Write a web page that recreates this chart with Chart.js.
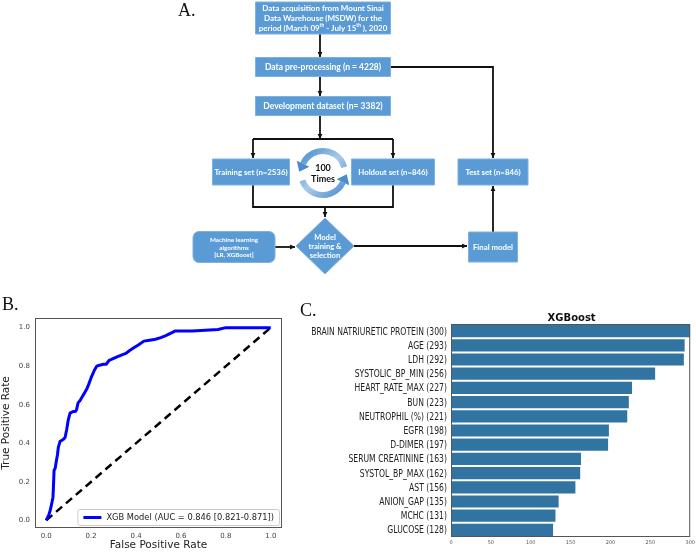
<!DOCTYPE html>
<html>
<head>
<meta charset="utf-8">
<script src="https://cdn.jsdelivr.net/npm/chart.js@4.4.1/dist/chart.umd.min.js"></script>
<style>
  body { margin: 0; background: #fff; }
  #wrap { position: relative; width: 696px; height: 552px; overflow: hidden; }
  canvas { position: absolute; }
  .panel { position: absolute; font-family: "Liberation Serif", serif; font-size: 18px; color: #111; }
</style>
</head>
<body>
<div id="wrap">
  <canvas id="flowChart" width="696" height="282" style="left:0;top:0;width:696px;height:282px"></canvas>
  <canvas id="rocChart" width="292" height="272" style="left:0;top:280px;width:292px;height:272px"></canvas>
  <canvas id="impChart" width="396" height="262" style="left:300px;top:290px;width:396px;height:262px"></canvas>
  <div class="panel" style="left:178px;top:0px">A.</div>
  <div class="panel" style="left:2px;top:294px">B.</div>
  <div class="panel" style="left:300px;top:300px">C.</div>
</div>
<script>
// ---- data ----
// flowchart steps (text only)
const stepLabels = [
  [["Data acquisition from Mount Sinai"], ["Data Warehouse (MSDW) for the"], ["period (March 09", "th", " - July 15", "th", " ), 2020"]],
  [["Data pre-processing (n = 4228)"]],
  [["Development dataset (n= 3382)"]],
  [["Training set (n=2536)"]],
  [["Holdout set (n=846)"]],
  [["Test set (n=846)"]],
  [["Machine learning"], ["algorithms"], ["[LR, XGBoost]"]],
  [["Model"], ["training &"], ["selection"]],
  [["Final model"]]
];
const loopLabel = ["100", "Times"];

// ROC curve
const rocFpr = [0, 0.012, 0.018, 0.025, 0.03, 0.032, 0.035, 0.04, 0.044, 0.05, 0.054, 0.062, 0.07, 0.076, 0.084, 0.088, 0.091, 0.098, 0.106, 0.12, 0.13, 0.135, 0.142, 0.15, 0.157, 0.17, 0.18, 0.186, 0.2, 0.215, 0.225, 0.237, 0.255, 0.267, 0.28, 0.29, 0.318, 0.34, 0.355, 0.37, 0.39, 0.41, 0.435, 0.46, 0.487, 0.51, 0.53, 0.56, 0.575, 0.65, 0.69, 0.765, 0.8, 1.0];
const rocTpr = [0, 0.03, 0.052, 0.09, 0.12, 0.17, 0.26, 0.27, 0.30, 0.34, 0.38, 0.41, 0.415, 0.42, 0.43, 0.43, 0.47, 0.52, 0.556, 0.565, 0.565, 0.574, 0.61, 0.62, 0.635, 0.66, 0.68, 0.696, 0.74, 0.78, 0.80, 0.805, 0.81, 0.81, 0.83, 0.835, 0.85, 0.86, 0.866, 0.88, 0.895, 0.91, 0.93, 0.935, 0.94, 0.948, 0.957, 0.974, 0.983, 0.983, 0.985, 0.99, 1.0, 1.0];
const chanceFpr = [0, 1];
const chanceTpr = [0, 1];
const rocTicks = [0, 0.2, 0.4, 0.6, 0.8, 1.0];
const rocLegend = "XGB Model (AUC = 0.846 [0.821-0.871])";

// XGBoost feature importance
const featureNames = ["BRAIN NATRIURETIC PROTEIN (300)", "AGE (293)", "LDH (292)", "SYSTOLIC_BP_MIN (256)", "HEART_RATE_MAX (227)", "BUN (223)", "NEUTROPHIL (%) (221)", "EGFR (198)", "D-DIMER (197)", "SERUM CREATININE (163)", "SYSTOL_BP_MAX (162)", "AST (156)", "ANION_GAP (135)", "MCHC (131)", "GLUCOSE (128)"];
const featureScores = [300, 293, 292, 256, 227, 223, 221, 198, 197, 163, 162, 156, 135, 131, 128];
const scoreTicks = [0, 50, 100, 150, 200, 250, 300];

// ---- flowchart layout (centre x/y, width, height in units of the hidden scales) ----
const stepBoxes = [
  { x: 323, y: 18,  w: 135, h: 32, shape: "rect", font: 8 },
  { x: 323, y: 67,  w: 135, h: 19, shape: "rect", font: 8.5 },
  { x: 323, y: 106, w: 135, h: 19, shape: "rect", font: 8.5 },
  { x: 251, y: 172, w: 77,  h: 26, shape: "rect", font: 7.8 },
  { x: 393, y: 172, w: 83,  h: 26, shape: "rect", font: 7.8 },
  { x: 493, y: 172, w: 70,  h: 26, shape: "rect", font: 7.8 },
  { x: 234, y: 247, w: 82,  h: 31, shape: "round", font: 6.3 },
  { x: 325, y: 246, w: 58,  h: 56, shape: "diamond", font: 7.6 },
  { x: 493, y: 247, w: 49,  h: 30, shape: "rect", font: 7.8 }
];
// connectors: polyline points, arrow at last point
const links = [
  { pts: [[320, 34], [320, 57]], arrow: true },
  { pts: [[320, 77], [320, 96]], arrow: true },
  { pts: [[320, 116], [320, 139]], arrow: true },
  { pts: [[253, 139], [393, 139]], arrow: false },
  { pts: [[253, 139], [253, 158]], arrow: true },
  { pts: [[393, 139], [393, 158]], arrow: true },
  { pts: [[253, 185], [253, 207], [393, 207], [393, 185]], arrow: false },
  { pts: [[325, 207], [325, 217]], arrow: true },
  { pts: [[275, 247], [295, 247]], arrow: true },
  { pts: [[354, 246], [467, 246]], arrow: true },
  { pts: [[493, 232], [493, 186]], arrow: true },
  { pts: [[391, 67], [493, 67], [493, 158]], arrow: true }
];
const loopCentre = { x: 323, y: 173, r: 22 };

const BOX_FILL = "#5b9bd5";
const BOX_EDGE = "#7fb0de";

function arrowHead(ctx, x0, y0, x1, y1, size) {
  const a = Math.atan2(y1 - y0, x1 - x0);
  ctx.beginPath();
  ctx.moveTo(x1, y1);
  ctx.lineTo(x1 - size * Math.cos(a - 0.45), y1 - size * Math.sin(a - 0.45));
  ctx.lineTo(x1 - size * Math.cos(a + 0.45), y1 - size * Math.sin(a + 0.45));
  ctx.closePath();
  ctx.fill();
}

function drawRichLine(ctx, segs, cx, cy, size) {
  // segs alternates normal / superscript text
  let widths = segs.map((s, i) => {
    ctx.font = "bold " + (i % 2 ? size * 0.6 : size) + "px Lato";
    return ctx.measureText(s).width;
  });
  let x = cx - widths.reduce((a, b) => a + b, 0) / 2;
  segs.forEach((s, i) => {
    ctx.font = "bold " + (i % 2 ? size * 0.6 : size) + "px Lato";
    ctx.textAlign = "left";
    ctx.fillText(s, x, i % 2 ? cy - size * 0.35 : cy);
    x += widths[i];
  });
}

const flowPlugin = {
  id: "flow",
  afterDatasetsDraw(chart) {
    const ctx = chart.ctx;
    const sx = chart.scales.x, sy = chart.scales.y;
    const px = v => sx.getPixelForValue(v), py = v => sy.getPixelForValue(v);
    ctx.save();

    // connectors
    ctx.strokeStyle = "#111";
    ctx.fillStyle = "#111";
    ctx.lineWidth = 1.8;
    links.forEach(l => {
      ctx.beginPath();
      l.pts.forEach((p, i) => i ? ctx.lineTo(px(p[0]), py(p[1])) : ctx.moveTo(px(p[0]), py(p[1])));
      ctx.stroke();
      if (l.arrow) {
        const n = l.pts.length;
        const a = l.pts[n - 2], b = l.pts[n - 1];
        arrowHead(ctx, px(a[0]), py(a[1]), px(b[0]), py(b[1]), 5.5);
      }
    });

    // boxes
    stepBoxes.forEach((b, i) => {
      const cx = px(b.x), cy = py(b.y);
      const w = px(b.x + b.w) - cx, h = py(b.y + b.h) - cy;
      ctx.fillStyle = BOX_FILL;
      ctx.strokeStyle = BOX_EDGE;
      ctx.lineWidth = 1;
      ctx.beginPath();
      if (b.shape === "diamond") {
        ctx.moveTo(cx, cy - h / 2);
        ctx.lineTo(cx + w / 2, cy);
        ctx.lineTo(cx, cy + h / 2);
        ctx.lineTo(cx - w / 2, cy);
        ctx.closePath();
      } else if (b.shape === "round") {
        ctx.roundRect(cx - w / 2, cy - h / 2, w, h, 6);
      } else {
        ctx.rect(cx - w / 2, cy - h / 2, w, h);
      }
      ctx.fill();
      ctx.stroke();

      const lines = stepLabels[i];
      const lh = b.font * 1.2;
      ctx.fillStyle = "#fff";
      ctx.textBaseline = "middle";
      lines.forEach((segs, k) => {
        drawRichLine(ctx, segs, cx, cy + (k - (lines.length - 1) / 2) * lh + 0.5, b.font);
      });
    });

    // loop arrows ("100 Times")
    const lc = { x: px(loopCentre.x), y: py(loopCentre.y) };
    const r = loopCentre.r;
    const grad = ctx.createLinearGradient(lc.x - r, lc.y - r, lc.x + r, lc.y + r);
    grad.addColorStop(0, "#4a8ccc");
    grad.addColorStop(0.5, "#a9cbea");
    grad.addColorStop(1, "#4a8ccc");
    ctx.strokeStyle = grad;
    ctx.fillStyle = "#4a8ccc";
    ctx.lineWidth = 6;
    const deg = Math.PI / 180;
    ctx.beginPath();
    ctx.arc(lc.x, lc.y, r, 345 * deg, 205 * deg, true);
    ctx.stroke();
    ctx.beginPath();
    ctx.arc(lc.x, lc.y, r, 160 * deg, 25 * deg, true);
    ctx.stroke();
    const head = (ang, dir) => {
      const ex = lc.x + r * Math.cos(ang), ey = lc.y + r * Math.sin(ang);
      const tx = -Math.sin(ang) * dir, ty = Math.cos(ang) * dir;
      const nx = Math.cos(ang), ny = Math.sin(ang);
      ctx.beginPath();
      ctx.moveTo(ex + tx * 9, ey + ty * 9);
      ctx.lineTo(ex + nx * 7, ey + ny * 7);
      ctx.lineTo(ex - nx * 7, ey - ny * 7);
      ctx.closePath();
      ctx.fill();
    };
    head(205 * deg, -1);
    head(25 * deg, -1);

    ctx.fillStyle = "#111";
    ctx.textAlign = "center";
    ctx.textBaseline = "middle";
    ctx.font = "bold 9px Lato";
    ctx.fillText(loopLabel[0], lc.x, lc.y - 5);
    ctx.fillText(loopLabel[1], lc.x, lc.y + 6);
    ctx.restore();
  }
};

new Chart(document.getElementById("flowChart"), {
  type: "scatter",
  data: { datasets: [{ data: stepBoxes.map(b => ({ x: b.x, y: b.y })), pointRadius: 0 }] },
  options: {
    responsive: false,
    animation: false,
    events: [],
    layout: { padding: 0 },
    plugins: { legend: { display: false }, tooltip: { enabled: false } },
    scales: {
      x: { display: false, min: 0, max: 696 },
      y: { display: false, min: 0, max: 282, reverse: true }
    }
  },
  plugins: [flowPlugin]
});

// ---- ROC ----
const frameBox = {
  id: "frameBox",
  afterDraw(chart) {
    const a = chart.chartArea, ctx = chart.ctx;
    ctx.save();
    ctx.strokeStyle = "#555";
    ctx.lineWidth = 1;
    ctx.strokeRect(a.left + 0.5, a.top + 0.5, a.right - a.left - 1, a.bottom - a.top - 1);
    ctx.restore();
  }
};

const rocLegendBox = {
  id: "rocLegendBox",
  afterDraw(chart) {
    const a = chart.chartArea, ctx = chart.ctx;
    ctx.save();
    ctx.font = "8.3px 'DejaVu Sans'";
    const tw = ctx.measureText(rocLegend).width;
    const w = tw + 34, h = 16;
    const x = a.right - 3 - w, y = a.bottom - 3 - h;
    ctx.fillStyle = "rgba(255,255,255,0.85)";
    ctx.strokeStyle = "#ccc";
    ctx.lineWidth = 1;
    ctx.beginPath();
    ctx.roundRect(x + 0.5, y + 0.5, w, h, 2);
    ctx.fill();
    ctx.stroke();
    ctx.strokeStyle = "#0000ff";
    ctx.lineWidth = 3;
    ctx.beginPath();
    ctx.moveTo(x + 6, y + h / 2 + 0.5);
    ctx.lineTo(x + 24, y + h / 2 + 0.5);
    ctx.stroke();
    ctx.fillStyle = "#222";
    ctx.textBaseline = "middle";
    ctx.fillText(rocLegend, x + 29, y + h / 2 + 1);
    ctx.restore();
  }
};

const tickFmt = v => Number(v).toFixed(1);
new Chart(document.getElementById("rocChart"), {
  type: "scatter",
  data: {
    datasets: [
      {
        data: rocFpr.map((x, i) => ({ x, y: rocTpr[i] })),
        showLine: true, borderColor: "#0000ff", borderWidth: 3, pointRadius: 0, tension: 0, borderJoinStyle: "round"
      },
      {
        data: chanceFpr.map((x, i) => ({ x, y: chanceTpr[i] })),
        showLine: true, borderColor: "#000", borderWidth: 2.5, borderDash: [8, 5], pointRadius: 0
      }
    ]
  },
  options: {
    responsive: false,
    animation: false,
    events: [],
    layout: { padding: { top: 38, right: 10, left: 0, bottom: 0 } },
    plugins: { legend: { display: false }, tooltip: { enabled: false } },
    scales: {
      x: {
        min: -0.05, max: 1.05,
        afterBuildTicks: s => { s.ticks = rocTicks.map(v => ({ value: v })); },
        afterFit: s => { s.height = 24; },
        grid: { display: false, drawTicks: true, tickLength: 3, color: "#555" },
        border: { display: false },
        ticks: { callback: tickFmt, font: { size: 7, family: "DejaVu Sans" }, color: "#444", padding: 1, maxRotation: 0 },
        title: { display: true, text: "False Positive Rate", font: { size: 10.5, family: "DejaVu Sans" }, color: "#222", padding: { top: 0, bottom: 0 } }
      },
      y: {
        min: -0.04, max: 1.05,
        afterBuildTicks: s => { s.ticks = rocTicks.map(v => ({ value: v })); },
        afterFit: s => { s.width = 35; },
        grid: { display: false, drawTicks: true, tickLength: 3, color: "#555" },
        border: { display: false },
        ticks: { callback: tickFmt, font: { size: 7, family: "DejaVu Sans" }, color: "#444", padding: 2 },
        title: { display: true, text: "True Positive Rate", font: { size: 10.5, family: "DejaVu Sans" }, color: "#222", padding: { top: 0, bottom: 2 } }
      }
    }
  },
  plugins: [frameBox, rocLegendBox]
});

// ---- feature importance ----
const barDecor = {
  id: "barDecor",
  afterDraw(chart) {
    const a = chart.chartArea, ctx = chart.ctx;
    const ys = chart.scales.y;
    ctx.save();
    ctx.font = "bold 10px 'DejaVu Sans'";
    ctx.fillStyle = "#111";
    ctx.textAlign = "center";
    ctx.textBaseline = "bottom";
    ctx.fillText("XGBoost", (a.left + a.right) / 2 + 1, a.top - 1);
    // category labels, condensed like the source figure
    ctx.font = "9.6px 'DejaVu Sans'";
    ctx.fillStyle = "#222";
    ctx.textAlign = "right";
    ctx.textBaseline = "middle";
    chart.data.labels.forEach((lab, i) => {
      ctx.save();
      ctx.translate(a.left - 4, ys.getPixelForValue(i) + 1);
      ctx.scale(0.8, 1);
      ctx.fillText(lab, 0, 0);
      ctx.restore();
    });
    ctx.restore();
  }
};

new Chart(document.getElementById("impChart"), {
  type: "bar",
  data: {
    labels: featureNames,
    datasets: [{ data: featureScores, backgroundColor: "#3274a1", categoryPercentage: 0.86, barPercentage: 1 }]
  },
  options: {
    indexAxis: "y",
    responsive: false,
    animation: false,
    events: [],
    layout: { padding: { top: 34, right: 4, left: 0, bottom: 0 } },
    plugins: { legend: { display: false }, tooltip: { enabled: false } },
    scales: {
      x: {
        min: 0, max: 300,
        afterBuildTicks: s => { s.ticks = scoreTicks.map(v => ({ value: v })); },
        afterFit: s => { s.height = 15; },
        grid: { display: false, drawTicks: true, tickLength: 2, color: "#777" },
        border: { display: false },
        ticks: { font: { size: 5, family: "DejaVu Sans" }, color: "#555", padding: 1, maxRotation: 0 }
      },
      y: {
        afterFit: s => { s.width = 151; },
        grid: { display: false, drawTicks: true, tickLength: 3, color: "#777" },
        border: { display: false },
        ticks: { display: false, autoSkip: false }
      }
    }
  },
  plugins: [frameBox, barDecor]
});
</script>
</body>
</html>
